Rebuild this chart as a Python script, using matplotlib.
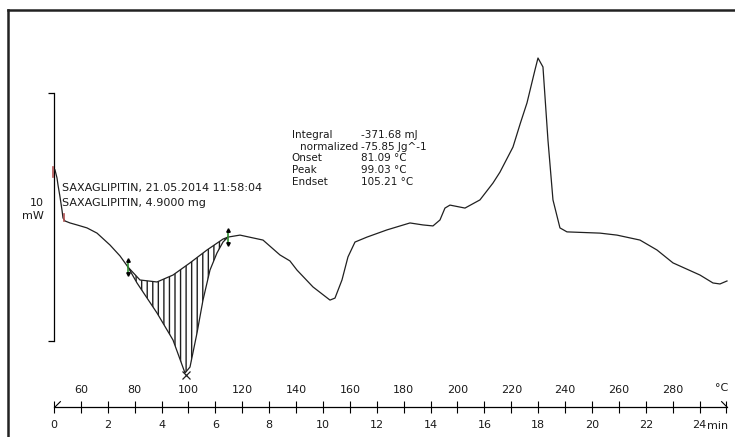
import matplotlib.pyplot as plt
import numpy as np
from matplotlib.lines import Line2D

# DSC curve, temperature (°C) vs heat flow (mW)
curve_T = [50.37, 51.12, 51.49, 52.23, 52.97, 53.35, 54.09, 55.95, 58.55, 62.27,
           65.99, 70.82, 74.54, 77.51, 80.86, 88.29, 94.24, 98.70, 100.56, 103.16,
           105.39, 107.99, 110.59, 112.83, 114.68, 119.14, 127.70, 134.0, 137.7, 140.33,
           146.28, 152.60, 154.46, 157.06, 159.29, 161.90, 166.36, 173.79, 182.34, 187.17,
           190.89, 193.49, 195.35, 197.21, 202.79, 208.36, 213.20, 215.80, 220.63, 223.4,
           225.84, 228.81, 229.93, 231.78, 233.64, 235.50, 238.10, 240.71, 252.97, 259.29,
           267.84, 274.16, 280.11, 290.15, 294.98, 297.58, 300.19]
curve_mW = [6.90, 6.57, 6.29, 5.81, 5.28, 4.96, 4.84, 4.76, 4.68, 4.56,
            4.35, 3.87, 3.43, 2.98, 2.34, 1.13, 0.04, -1.29, -1.05, 0.32,
            1.65, 2.86, 3.55, 3.99, 4.19, 4.27, 4.07, 3.47, 3.23, 2.86,
            2.18, 1.65, 1.73, 2.46, 3.39, 3.99, 4.19, 4.48, 4.76, 4.68,
            4.64, 4.88, 5.36, 5.48, 5.36, 5.69, 6.37, 6.81, 7.82, 8.79,
            9.60, 10.93, 11.41, 11.05, 8.10, 5.69, 4.56, 4.40, 4.35, 4.27,
            4.07, 3.67, 3.15, 2.66, 2.34, 2.30, 2.42]

# integration baseline between the limits
base_T = [77.51, 81.97, 88.29, 94.24, 100.56, 106.88, 112.83, 114.68]
base_mW = [2.98, 2.46, 2.38, 2.66, 3.15, 3.67, 4.11, 4.19]
limits = [77.51, 114.68]
peak_T = 99.03

# red evaluation marks at start
red_T = [49.63, 53.9]
red_lo = [6.61, 4.84]
red_hi = [7.02, 5.12]

scale_mw = 10
temp_ticks = list(range(50, 301, 10))
temp_labels = [str(t) if t % 20 == 0 and 60 <= t <= 280 else '' for t in temp_ticks]
time_ticks = list(range(0, 25, 2))

sample_lines = ['SAXAGLIPITIN, 21.05.2014 11:58:04', 'SAXAGLIPITIN, 4.9000 mg']
res_names = ['Integral', 'normalized', 'Onset', 'Peak', 'Endset']
res_values = ['-371.68 mJ', '-75.85 Jg^-1', '81.09 °C', '99.03 °C', '105.21 °C']

plt.rcParams['font.family'] = ['DejaVu Sans']
txt = '#1a1a1a'
W, H = 735, 437
fig = plt.figure(figsize=(W / 100, H / 100), dpi=100)

xl = (50, 300.2)
ax = fig.add_axes([54 / W, (H - 341) / H, 673 / W, 248 / H])
ax.set_xlim(*xl)
ax.set_ylim(0, scale_mw)
ax.patch.set_visible(False)
for s in ['top', 'right', 'bottom']:
    ax.spines[s].set_visible(False)
ax.spines['left'].set_bounds(0, scale_mw)
ax.spines['left'].set_linewidth(0.9)
ax.set_xticks([])
ax.set_yticks([0, scale_mw], ['', ''])
ax.tick_params(axis='y', direction='out', length=4.5, width=0.9)
ax.text(-0.015, 0.53, '10\nmW', transform=ax.transAxes, ha='right', va='center',
        multialignment='right', fontsize=8, color=txt, linespacing=1.45)

ax.plot(curve_T, curve_mW, color='#202020', lw=0.9, clip_on=False, zorder=3)
ax.plot(base_T, base_mW, color='#202020', lw=0.9, clip_on=False, zorder=3)

g = np.linspace(limits[0], limits[1], 300)
ax.fill_between(g, np.interp(g, curve_T, curve_mW), np.interp(g, base_T, base_mW),
                facecolor='none', edgecolor='#202020', hatch='|||', lw=0, clip_on=False)

for lt in limits:
    ym = np.interp(lt, curve_T, curve_mW)
    ax.plot([lt, lt], [ym - 0.25, ym + 0.25], color='#2e8b2e', lw=1.2, clip_on=False, zorder=4)
    ax.plot([lt], [ym + 0.28], marker='^', ms=2.5, color='k', clip_on=False, zorder=4)
    ax.plot([lt], [ym - 0.28], marker='v', ms=2.5, color='k', clip_on=False, zorder=4)

ax.plot([peak_T], [np.interp(peak_T, curve_T, curve_mW) - 0.12], marker='x', ms=6,
        mew=0.9, color='#202020', clip_on=False, zorder=4)

for t, lo, hi in zip(red_T, red_lo, red_hi):
    ax.plot([t, t], [lo, hi], color='#b05050', lw=1.2, clip_on=False, zorder=4)

for i, line in enumerate(sample_lines):
    ax.text(52.97, 6.17 - i * 0.6, line, fontsize=8, color=txt, va='center')

for i, (nm, val) in enumerate(zip(res_names, res_values)):
    y = 8.31 - i * 0.47
    ax.text(141.3 if nm == 'normalized' else 138.4, y, nm, fontsize=7.5, color=txt, va='center')
    ax.text(164.1, y, val, fontsize=7.5, color=txt, va='center')

# temperature / time axis
tax = fig.add_axes([54 / W, (H - 407) / H, 673 / W, 0.0001])
tax.set_xlim(*xl)
tax.patch.set_visible(False)
for s in ['top', 'left', 'right']:
    tax.spines[s].set_visible(False)
tax.spines['bottom'].set_linewidth(0.9)
tax.set_yticks([])
tax.set_xticks(temp_ticks, temp_labels)
tax.tick_params(axis='x', direction='inout', length=8.5, width=0.8, top=False, bottom=True,
                labeltop=True, labelbottom=False, pad=4.5, labelsize=8, labelcolor=txt)

sec = tax.secondary_xaxis('bottom', functions=(lambda T: (T - 50) / 10, lambda t: 50 + 10 * t))
sec.set_xticks(time_ticks, [str(t) for t in time_ticks])
sec.tick_params(axis='x', length=0, pad=9, labelsize=8, labelcolor=txt)
sec.spines['bottom'].set_visible(False)

tax.plot([xl[0]], [0], marker=[(0, 0), (1, 1)], ms=9, mew=0.8, color='k', mfc='none', clip_on=False)
tax.plot([xl[1]], [0], marker=[(-1, 1), (0, 0)], ms=9, mew=0.8, color='k', mfc='none', clip_on=False)
tax.annotate('min', xy=(290, 0), xycoords=('data', 'axes fraction'), xytext=(5, -14),
             textcoords='offset points', ha='left', va='center', fontsize=8, color=txt)
tax.annotate('°C', xy=(xl[1], 0), xycoords=('data', 'axes fraction'), xytext=(-4, 14),
             textcoords='offset points', ha='center', va='center', fontsize=8, color=txt)

# frame
fig.add_artist(Line2D([8 / W, 1], [1 - 10 / H] * 2, transform=fig.transFigure, lw=1.8, color='#222222'))
fig.add_artist(Line2D([8 / W] * 2, [0, 1 - 10 / H], transform=fig.transFigure, lw=1.8, color='#222222'))

fig.savefig('out.png', dpi=100)
